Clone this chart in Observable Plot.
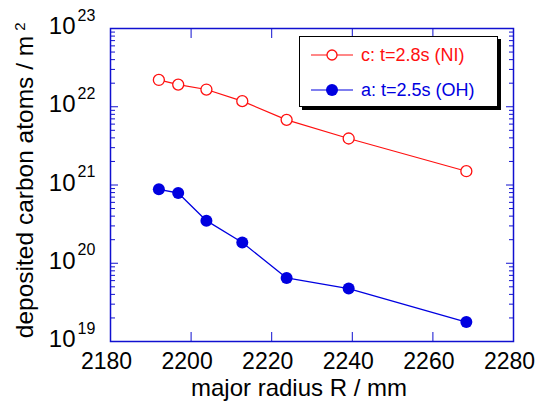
<!DOCTYPE html>
<html><head><meta charset="utf-8">
<script src="https://cdn.jsdelivr.net/npm/d3@7"></script>
<script src="https://cdn.jsdelivr.net/npm/@observablehq/plot@0.6"></script>
<style>
body{margin:0;background:#fff;}
#wrap{position:relative;width:537px;height:409px;font-family:"Liberation Sans",Arial,sans-serif;}
#legend{position:absolute;left:299px;top:36px;width:197px;height:69px;border:1px solid #000;box-shadow:3px 3px 0 #000;background:#fff;}
#legend svg{position:absolute;left:0;top:0;}
</style></head><body><div id="wrap"></div>
<script>
const radius = [2192, 2196.8, 2203.8, 2212.7, 2223.7, 2239.1, 2268.3];
const seriesC = [2.2e22, 1.92e22, 1.66e22, 1.18e22, 6.8e21, 3.93e21, 1.5e21];
const seriesA = [8.8e20, 7.9e20, 3.5e20, 1.84e20, 6.5e19, 4.75e19, 1.77e19];
const xTickLabels = [2180, 2200, 2220, 2240, 2260, 2280];
const xInnerTicks = [2200, 2220, 2240, 2260];
const yExponents = [19, 20, 21, 22, 23];
const legendLabels = ["c: t=2.8s (NI)", "a: t=2.5s (OH)"];
const xTitle = "major radius R / mm";
const yTitle = "deposited carbon atoms / m";
const yTitleSup = "2";

const RED = "#ff1010", BLUE = "#0000e0", FRAME = "#1010d0";
const FONT = "'Liberation Sans', Arial, sans-serif";

const dataC = radius.map((r, i) => ({r, v: seriesC[i]}));
const dataA = radius.map((r, i) => ({r, v: seriesA[i]}));
const majors = yExponents.map(e => 10 ** e);
const minors = [];
for (const e of yExponents.slice(0, -1)) for (let m = 2; m <= 9; m++) minors.push(m * 10 ** e);

const chart = Plot.plot({
  width: 537, height: 409,
  marginLeft: 110, marginRight: 24, marginTop: 28, marginBottom: 68,
  style: {fontFamily: FONT, background: "white"},
  x: {domain: [2180, 2280]},
  y: {type: "log", domain: [1e19, 1e23]},
  marks: [
    Plot.axisY({anchor: "left", ticks: majors, tickSize: -8, tickFormat: () => "", stroke: FRAME, label: null}),
    Plot.axisY({anchor: "left", ticks: minors, tickSize: -5, tickFormat: () => "", stroke: FRAME, label: null}),
    Plot.axisY({anchor: "right", ticks: majors, tickSize: -8, tickFormat: () => "", stroke: FRAME, label: null}),
    Plot.axisY({anchor: "right", ticks: minors, tickSize: -5, tickFormat: () => "", stroke: FRAME, label: null}),
    Plot.axisX({anchor: "bottom", ticks: xInnerTicks, tickSize: -9, tickFormat: () => "", stroke: FRAME, label: null}),
    Plot.axisX({anchor: "top", ticks: xInnerTicks, tickSize: -9, tickFormat: () => "", stroke: FRAME, label: null}),
    Plot.axisX({anchor: "bottom", ticks: xTickLabels, tickSize: 0, tickPadding: 11, dx: -4, tickFormat: d => String(d), fontSize: 23, fill: "black", label: null}),
    Plot.frame({stroke: FRAME, strokeWidth: 1.5}),
    Plot.text(yExponents, {y: d => 10 ** d, frameAnchor: "left", text: () => "10", textAnchor: "end", dx: -35, dy: -2, fontSize: 24, fill: "black"}),
    Plot.text(yExponents, {y: d => 10 ** d, frameAnchor: "left", text: d => String(d), textAnchor: "start", dx: -33, dy: -13, fontSize: 16, fill: "black"}),
    Plot.text([xTitle], {frameAnchor: "bottom", text: d => d, textAnchor: "middle", dy: 54, dx: -13, fontSize: 24, fill: "black"}),
    Plot.text([yTitle], {frameAnchor: "left", text: d => d, textAnchor: "middle", rotate: -90, dx: -85, dy: 2, fontSize: 24.5, fill: "black"}),
    Plot.text([yTitleSup], {frameAnchor: "top-left", text: d => d, textAnchor: "middle", rotate: -90, dx: -96, dy: -2, fontSize: 15, fill: "black"}),
    Plot.line(dataC, {x: "r", y: "v", stroke: RED, strokeWidth: 1.2}),
    Plot.dot(dataC, {x: "r", y: "v", r: 5.5, stroke: RED, fill: "white", strokeWidth: 1.3}),
    Plot.line(dataA, {x: "r", y: "v", stroke: BLUE, strokeWidth: 1.3}),
    Plot.dot(dataA, {x: "r", y: "v", r: 6, fill: BLUE, stroke: "none"})
  ]
});
const wrap = document.getElementById("wrap");
wrap.appendChild(chart);

const legend = document.createElement("div");
legend.id = "legend";
wrap.appendChild(legend);
const items = [
  {label: legendLabels[0], color: RED, open: true},
  {label: legendLabels[1], color: BLUE, open: false}
];
const svg = d3.select(legend).append("svg").attr("width", 197).attr("height", 69);
const g = svg.selectAll("g").data(items).join("g").attr("transform", (d, i) => `translate(0,${18 + i * 35})`);
g.append("line").attr("x1", 11).attr("x2", 53).attr("stroke", d => d.color).attr("stroke-width", 1.2);
g.append("circle").attr("cx", 32).attr("r", d => d.open ? 5 : 6)
  .attr("fill", d => d.open ? "white" : d.color).attr("stroke", d => d.open ? d.color : "none").attr("stroke-width", 1.3);
g.append("text").attr("x", 61).attr("dy", "0.35em").attr("font-size", 18).attr("font-family", FONT)
  .attr("fill", d => d.color).text(d => d.label);
</script>
</body></html>
